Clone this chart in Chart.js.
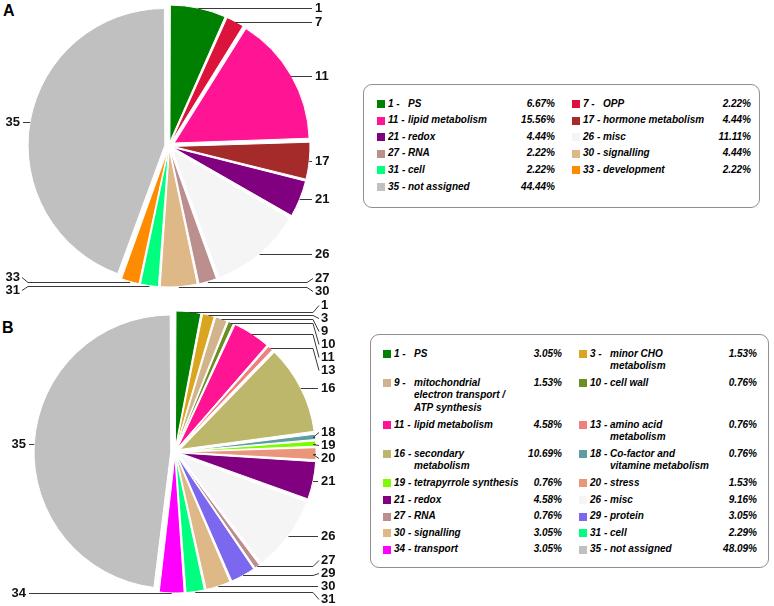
<!DOCTYPE html>
<html>
<head>
<meta charset="utf-8">
<script src="https://cdn.jsdelivr.net/npm/chart.js@4.4.1/dist/chart.umd.min.js"></script>
<style>
body { margin: 0; background: #fff; width: 774px; height: 606px; position: relative; overflow: hidden; font-family: Arial, "Liberation Sans", sans-serif; }
.panel { position: absolute; font: bold 16px Arial, "Liberation Sans", sans-serif; line-height: 16px; color: #000; }
canvas { position: absolute; }
.legend { position: absolute; box-sizing: border-box; border: 1px solid #8f8f8f; border-radius: 9px; display: grid; column-gap: 17px; row-gap: 4px; align-content: start; font: italic bold 10px Arial, "Liberation Sans", sans-serif; line-height: 12.6px; color: #000; }
.item { display: grid; grid-template-columns: 11px 20px 1fr auto; }
.sw { width: 8px; height: 8px; margin-top: 2.3px; }
.nm { white-space: pre; }
.pc { text-align: right; white-space: nowrap; }
</style>
</head>
<body>
<div class="panel" style="left:3px;top:3px">A</div>
<div class="panel" style="left:2px;top:320px">B</div>
<canvas id="pieA" width="345" height="300" style="left:0;top:0"></canvas>
<canvas id="pieB" width="355" height="306" style="left:0;top:300px"></canvas>
<div id="legendA" class="legend" style="left:363px;top:84px;width:397px;height:124px;padding:12.7px 0 0 13px;grid-template-columns:178px 179px"></div>
<div id="legendB" class="legend" style="left:370px;top:334px;width:399px;height:234px;padding:12.7px 0 0 12px;grid-template-columns:179px 178px"></div>
<script>
// A
const codesA = ['1', '7', '11', '17', '21', '26', '27', '30', '31', '33', '35'];
const namesA = ['PS', 'OPP', 'lipid metabolism', 'hormone metabolism', 'redox', 'misc', 'RNA', 'signalling', 'cell', 'development', 'not assigned'];
const valuesA = [6.67, 2.22, 15.56, 4.44, 4.44, 11.11, 2.22, 4.44, 2.22, 2.22, 44.44];
const colorsA = ['#008000', '#DC143C', '#FF1493', '#A52A2A', '#800080', '#F5F5F5', '#BC8F8F', '#DEB887', '#00FF7F', '#FF8C00', '#C0C0C0'];

// B
const codesB = ['1', '3', '9', '10', '11', '13', '16', '18', '19', '20', '21', '26', '27', '29', '30', '31', '34', '35'];
const namesB = ['PS', 'minor CHO\nmetabolism', 'mitochondrial\nelectron transport /\nATP synthesis', 'cell wall', 'lipid metabolism', 'amino acid\nmetabolism', 'secondary\nmetabolism', 'Co-factor and\nvitamine metabolism', 'tetrapyrrole synthesis', 'stress', 'redox', 'misc', 'RNA', 'protein', 'signalling', 'cell', 'transport', 'not assigned'];
const valuesB = [3.05, 1.53, 1.53, 0.76, 4.58, 0.76, 10.69, 0.76, 0.76, 1.53, 4.58, 9.16, 0.76, 3.05, 3.05, 2.29, 3.05, 48.09];
const colorsB = ['#008000', '#DAA520', '#D2B48C', '#6B8E23', '#FF1493', '#F08080', '#BDB76B', '#5F9EA0', '#7CFC00', '#E9967A', '#800080', '#F5F5F5', '#BC8F8F', '#7B68EE', '#DEB887', '#00FF7F', '#FF00FF', '#C0C0C0'];

// Chart.js v4 déplace un arc de offset/4 * (2 - sin(angle)) : on compense pour un écart constant
function facteur(angle) {
    return 2 - Math.sin(Math.min(Math.PI, angle));
}

function decalages(valeurs, d) {
    const total = valeurs.reduce((s, v) => s + v, 0);
    return valeurs.map(v => 4 * d / facteur(2 * Math.PI * v / total));
}

// regroupe les étiquettes qui se chevauchent, centrées sur leurs ancres
function espacer(items, gap, top, bottom) {
    items.sort((a, b) => a.ay - b.ay);
    let groupes = items.map(it => ({ items: [it], centre: it.ay }));
    let fusion = true;
    while (fusion) {
        fusion = false;
        for (let i = 1; i < groupes.length; i++) {
            const a = groupes[i - 1], b = groupes[i];
            const finA = a.centre + (a.items.length - 1) * gap / 2;
            const debB = b.centre - (b.items.length - 1) * gap / 2;
            if (debB - finA < gap) {
                const tous = a.items.concat(b.items);
                const moy = tous.reduce((s, it) => s + it.ay, 0) / tous.length;
                groupes.splice(i - 1, 2, { items: tous, centre: moy });
                fusion = true;
                break;
            }
        }
    }
    groupes.forEach(g => {
        const h = (g.items.length - 1) * gap;
        let debut = g.centre - h / 2;
        debut = Math.max(top, Math.min(debut, bottom - h));
        g.items.forEach((it, k) => { it.ly = debut + k * gap; });
    });
}

const etiquettes = {
    id: 'etiquettes',
    afterDatasetsDraw(chart) {
        const ctx = chart.ctx;
        const meta = chart.getDatasetMeta(0);
        const droite = [], gauche = [];
        let cx = 0, rMax = 0;
        meta.data.forEach((arc, i) => {
            const p = arc.getProps(['x', 'y', 'startAngle', 'endAngle', 'outerRadius'], true);
            const mid = (p.startAngle + p.endAngle) / 2;
            const d = (arc.options.offset || 0) / 4 * facteur(p.endAngle - p.startAngle);
            const R = p.outerRadius + d;
            cx = p.x;
            rMax = Math.max(rMax, R);
            const it = { texte: chart.data.labels[i], ax: p.x + Math.cos(mid) * R, ay: p.y + Math.sin(mid) * R };
            (it.ax >= p.x ? droite : gauche).push(it);
        });
        const top = 5, bottom = chart.height - 7;
        espacer(droite, 13, top, bottom);
        espacer(gauche, 13, top, bottom);

        ctx.save();
        ctx.strokeStyle = '#3a3a3a';
        ctx.lineWidth = 1;
        ctx.fillStyle = '#111';
        ctx.font = 'bold 13px Arial, "Liberation Sans", sans-serif';
        ctx.textBaseline = 'middle';

        const xd = cx + rMax + 5;
        ctx.textAlign = 'left';
        droite.forEach(it => {
            const y = Math.round(it.ay) + 0.5, ly = Math.round(it.ly) + 0.5;
            ctx.beginPath();
            ctx.moveTo(it.ax, y);
            if (Math.abs(ly - y) < 1) {
                ctx.lineTo(xd - 3, y);
            } else {
                ctx.lineTo(xd - 8, y);
                ctx.lineTo(xd - 2, ly);
            }
            ctx.stroke();
            ctx.fillText(it.texte, xd, ly);
        });

        const xg = cx - rMax - 8;
        ctx.textAlign = 'right';
        gauche.forEach(it => {
            const y = Math.round(it.ay) + 0.5, ly = Math.round(it.ly) + 0.5;
            ctx.beginPath();
            ctx.moveTo(it.ax, y);
            if (Math.abs(ly - y) < 1) {
                ctx.lineTo(xg + 3, y);
            } else {
                ctx.lineTo(xg + 8, y);
                ctx.lineTo(xg + 2, ly);
            }
            ctx.stroke();
            ctx.fillText(it.texte, xg, ly);
        });
        ctx.restore();
    }
};

function creerCamembert(id, codes, valeurs, couleurs, rayon, ecart, padding) {
    return new Chart(document.getElementById(id).getContext('2d'), {
        type: 'pie',
        data: {
            labels: codes,
            datasets: [{
                data: valeurs,
                backgroundColor: couleurs,
                borderColor: '#ffffff',
                borderWidth: 1,
                offset: decalages(valeurs, ecart)
            }]
        },
        options: {
            responsive: false,
            animation: false,
            radius: rayon,
            layout: { padding: padding },
            plugins: { legend: { display: false }, tooltip: { enabled: false } }
        },
        plugins: [etiquettes]
    });
}

function creerLegende(id, codes, noms, valeurs, couleurs) {
    const boite = document.getElementById(id);
    codes.forEach((code, i) => {
        const el = document.createElement('div');
        el.className = 'item';
        el.innerHTML = '<div class="sw" style="background:' + couleurs[i] + '"></div>' +
            '<div>' + code + ' -</div>' +
            '<div class="nm"></div>' +
            '<div class="pc">' + valeurs[i].toFixed(2) + '%</div>';
        el.querySelector('.nm').textContent = noms[i];
        boite.appendChild(el);
    });
}

creerCamembert('pieA', codesA, valuesA, colorsA, 134, 7, { left: 0, right: 7, top: 0, bottom: 8 });
creerCamembert('pieB', codesB, valuesB, colorsB, 133, 8, { left: 0, right: 5, top: 0, bottom: 2 });
creerLegende('legendA', codesA, namesA, valuesA, colorsA);
creerLegende('legendB', codesB, namesB, valuesB, colorsB);
</script>
</body>
</html>
